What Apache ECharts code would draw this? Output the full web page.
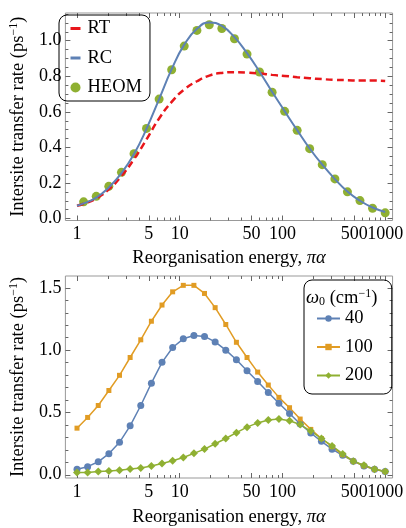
<!DOCTYPE html>
<html>
<head>
<meta charset="utf-8">
<script src="https://cdn.jsdelivr.net/npm/echarts@6/dist/echarts.min.js"></script>
<style>
html,body{margin:0;padding:0;background:#fff;}
#chart{width:406px;height:528px;}
</style>
</head>
<body>
<div id="chart"></div>
<script>
// ---------- Data (top panel) ----------
const curveEnergy = [1, 1.16, 1.54, 2.04, 2.71, 3.59, 4.75, 6.30, 8.35, 11.06, 14.7, 19.4, 25.7, 34.1, 45.2, 59.8, 79.3, 105, 139, 184, 244, 324, 429, 568, 753, 1000];
const rtRate = [0.072, 0.083, 0.113, 0.164, 0.239, 0.334, 0.445, 0.563, 0.656, 0.726, 0.772, 0.804, 0.819, 0.823, 0.821, 0.816, 0.808, 0.802, 0.795, 0.789, 0.784, 0.780, 0.778, 0.776, 0.776, 0.774];
const rcRate = [0.072, 0.085, 0.118, 0.175, 0.255, 0.363, 0.505, 0.672, 0.840, 0.978, 1.067, 1.103, 1.083, 1.020, 0.930, 0.826, 0.713, 0.604, 0.497, 0.394, 0.303, 0.222, 0.152, 0.100, 0.062, 0.037];
const heomEnergy = [1.16, 1.54, 2.04, 2.71, 3.59, 4.75, 6.30, 8.35, 11.06, 14.7, 19.4, 25.7, 34.1, 45.2, 59.8, 79.3, 105, 139, 184, 244, 324, 429, 568, 753, 1000];
const heomRate = [0.094, 0.125, 0.181, 0.260, 0.365, 0.507, 0.672, 0.837, 0.970, 1.058, 1.090, 1.069, 1.011, 0.925, 0.824, 0.710, 0.603, 0.496, 0.393, 0.303, 0.223, 0.150, 0.101, 0.058, 0.032];

// ---------- Data (bottom panel) ----------
const energy = [1, 1.269, 1.610, 2.043, 2.593, 3.290, 4.175, 5.298, 6.723, 8.532, 10.83, 13.74, 17.43, 22.12, 28.07, 35.62, 45.20, 57.36, 72.79, 92.37, 117.2, 148.7, 188.7, 239.5, 303.9, 385.7, 489.4, 621.1, 788.1, 1000];
const rate40 = [0.044, 0.065, 0.104, 0.169, 0.260, 0.393, 0.556, 0.735, 0.902, 1.021, 1.091, 1.118, 1.110, 1.066, 1.000, 0.923, 0.834, 0.748, 0.660, 0.574, 0.491, 0.408, 0.335, 0.268, 0.205, 0.156, 0.109, 0.070, 0.044, 0.026];
const rate100 = [0.374, 0.460, 0.556, 0.676, 0.798, 0.941, 1.083, 1.232, 1.362, 1.468, 1.520, 1.520, 1.455, 1.341, 1.206, 1.063, 0.941, 0.824, 0.720, 0.621, 0.538, 0.447, 0.364, 0.291, 0.226, 0.161, 0.109, 0.072, 0.044, 0.026];
const rate200 = [0.019, 0.019, 0.027, 0.031, 0.037, 0.047, 0.055, 0.070, 0.091, 0.112, 0.138, 0.172, 0.206, 0.249, 0.291, 0.338, 0.382, 0.416, 0.440, 0.447, 0.434, 0.403, 0.351, 0.291, 0.231, 0.167, 0.109, 0.076, 0.044, 0.026];

// ---------- Ticks ----------
const xMajorTicks = [1, 5, 10, 50, 100, 500, 1000];
const xLabelsA = [1, 5, 10, 50, 100, 500];   // drawn on the main bottom axis
const xLabelsB = [1000];                      // drawn on the companion bottom axis (avoids overlap culling)
const xMinorTicks = [2, 3, 4, 6, 7, 8, 9, 20, 30, 40, 60, 70, 80, 90, 200, 300, 400, 600, 700, 800, 900];
const yTopMajor = [0, 0.2, 0.4, 0.6, 0.8, 1.0];
const yTopMinor = [0.05, 0.1, 0.15, 0.25, 0.3, 0.35, 0.45, 0.5, 0.55, 0.65, 0.7, 0.75, 0.85, 0.9, 0.95, 1.05, 1.1, 1.15];
const yBotMajor = [0, 0.5, 1.0, 1.5];
const yBotMinor = [0.1, 0.2, 0.3, 0.4, 0.6, 0.7, 0.8, 0.9, 1.1, 1.2, 1.3, 1.4];

const FONT = 'Liberation Serif';
const FS = 18.5;   // names / legend
const FT = 18;     // tick labels
const TICK = '#666';
const X_MIN = 0.771, X_MAX = 1180;

function zip(a, b) { return a.map((v, i) => [v, b[i]]); }

function xLbl(values) {
  return { show: true, customValues: values, formatter: v => String(Math.round(v)),
    fontFamily: FONT, fontSize: FT, color: '#000', margin: 5,
    hideOverlap: false, showMinLabel: true, showMaxLabel: true };
}

function makeXAxes(gi, nameGap) {
  const base = { type: 'log', logBase: 10, gridIndex: gi, min: X_MIN, max: X_MAX,
    splitLine: { show: false }, axisLine: { show: false, onZero: false }, silent: true };
  return [
    Object.assign({}, base, { position: 'bottom', axisLabel: xLbl(xLabelsA),
      axisTick: { inside: true, length: 5, customValues: xMajorTicks, lineStyle: { color: TICK } },
      name: 'Reorganisation energy, {i|πα}', nameLocation: 'middle', nameGap: nameGap,
      nameTextStyle: { fontFamily: FONT, fontSize: FS, color: '#000', rich: { i: { fontFamily: FONT, fontSize: FS, fontStyle: 'italic', color: '#000' } } } }),
    Object.assign({}, base, { position: 'bottom', axisLabel: xLbl(xLabelsB),
      axisTick: { inside: true, length: 3, customValues: xMinorTicks, lineStyle: { color: TICK } } }),
    Object.assign({}, base, { position: 'top', axisLabel: { show: false },
      axisTick: { inside: true, length: 5, customValues: xMajorTicks, lineStyle: { color: TICK } } }),
    Object.assign({}, base, { position: 'top', axisLabel: { show: false },
      axisTick: { inside: true, length: 3, customValues: xMinorTicks, lineStyle: { color: TICK } } })
  ];
}

function makeYAxes(gi, mn, mx, major, minor) {
  const base = { type: 'value', gridIndex: gi, min: mn, max: mx,
    splitLine: { show: false }, axisLine: { show: false, onZero: false }, silent: true };
  return [
    Object.assign({}, base, { position: 'left',
      axisLabel: { customValues: major, formatter: v => v.toFixed(1), fontFamily: FONT, fontSize: FT, color: '#000', margin: 4, hideOverlap: false },
      axisTick: { inside: true, length: 5, customValues: major, lineStyle: { color: TICK } },
      name: 'Intersite transfer rate (ps{s|−1})', nameLocation: 'middle', nameGap: 34,
      nameTextStyle: { fontFamily: FONT, fontSize: FS, color: '#000', lineHeight: 20,
        rich: { s: { fontFamily: FONT, fontSize: 12, verticalAlign: 'top', color: '#000' } } } }),
    Object.assign({}, base, { position: 'left', axisLabel: { show: false },
      axisTick: { inside: true, length: 3, customValues: minor, lineStyle: { color: TICK } } }),
    Object.assign({}, base, { position: 'right', axisLabel: { show: false },
      axisTick: { inside: true, length: 5, customValues: major, lineStyle: { color: TICK } } }),
    Object.assign({}, base, { position: 'right', axisLabel: { show: false },
      axisTick: { inside: true, length: 3, customValues: minor, lineStyle: { color: TICK } } })
  ];
}

const BLUE = '#5e81b5', ORANGE = '#e19c24', GREEN = '#8fb032', RED = '#e8161b';

const chart = echarts.init(document.getElementById('chart'), null, { renderer: 'canvas' });
const option = {
  animation: false,
  backgroundColor: '#fff',
  title: {
    text: '{w|ω}{b|0} (cm{p|−1})', left: 306, top: 288, padding: 0,
    textStyle: { fontFamily: FONT, fontSize: FS, fontWeight: 'normal', color: '#000', lineHeight: 20,
      rich: {
        w: { fontFamily: FONT, fontSize: FS, fontStyle: 'italic', color: '#000' },
        b: { fontFamily: FONT, fontSize: 12, verticalAlign: 'bottom', color: '#000' },
        p: { fontFamily: FONT, fontSize: 12, verticalAlign: 'top', color: '#000' }
      } }
  },
  grid: [
    { left: 57, top: 13, width: 339, height: 207.5, show: true, borderColor: '#999', borderWidth: 1, containLabel: false },
    { left: 57, top: 276, width: 339, height: 208, show: true, borderColor: '#999', borderWidth: 1, containLabel: false }
  ],
  xAxis: makeXAxes(0, 28).concat(makeXAxes(1, 30)),
  yAxis: makeYAxes(0, -0.011, 1.156, yTopMajor, yTopMinor).concat(makeYAxes(1, -0.026, 1.595, yBotMajor, yBotMinor)),
  legend: [
    {
      data: [
        { name: 'RT', lineStyle: { type: 'solid', width: 3 }, itemStyle: { opacity: 0 } },
        { name: 'RC', lineStyle: { width: 3 }, itemStyle: { opacity: 0 } },
        { name: 'HEOM' }
      ],
      orient: 'vertical', left: 59, top: 15, itemWidth: 10, itemHeight: 10, itemGap: 10.5,
      padding: [4, 8, 4, 10], borderColor: '#000', borderWidth: 1, borderRadius: 8,
      textStyle: { fontFamily: FONT, fontSize: FS, color: '#000', padding: [0, 0, 0, 2] },
      selectedMode: false
    },
    {
      data: ['40', '100', '200'],
      orient: 'vertical', left: 304, top: 280, itemWidth: 23, itemHeight: 8, itemGap: 9.5,
      padding: [29, 19, 9, 12], borderColor: '#000', borderWidth: 1, borderRadius: 8,
      textStyle: { fontFamily: FONT, fontSize: FS, color: '#000' },
      selectedMode: false
    }
  ],
  series: [
    { name: 'RT', type: 'line', xAxisIndex: 0, yAxisIndex: 0, data: zip(curveEnergy, rtRate),
      symbol: 'none', smooth: true, lineStyle: { color: RED, width: 2.5, type: [7, 4] }, itemStyle: { color: RED } },
    { name: 'RC', type: 'line', xAxisIndex: 0, yAxisIndex: 0, data: zip(curveEnergy, rcRate),
      symbol: 'none', smooth: true, lineStyle: { color: BLUE, width: 2 }, itemStyle: { color: BLUE } },
    { name: 'HEOM', type: 'scatter', xAxisIndex: 0, yAxisIndex: 0, data: zip(heomEnergy, heomRate),
      symbol: 'circle', symbolSize: 9, itemStyle: { color: GREEN, opacity: 1 } },
    { name: '40', type: 'line', xAxisIndex: 4, yAxisIndex: 4, data: zip(energy, rate40),
      symbol: 'circle', symbolSize: 7, showSymbol: true, lineStyle: { color: BLUE, width: 1.5 }, itemStyle: { color: BLUE } },
    { name: '100', type: 'line', xAxisIndex: 4, yAxisIndex: 4, data: zip(energy, rate100),
      symbol: 'rect', symbolSize: 5, showSymbol: true, lineStyle: { color: ORANGE, width: 1.5 }, itemStyle: { color: ORANGE } },
    { name: '200', type: 'line', xAxisIndex: 4, yAxisIndex: 4, data: zip(energy, rate200),
      symbol: 'diamond', symbolSize: 8, showSymbol: true, lineStyle: { color: GREEN, width: 1.5 }, itemStyle: { color: GREEN } }
  ]
};
chart.setOption(option);
</script>
</body>
</html>
